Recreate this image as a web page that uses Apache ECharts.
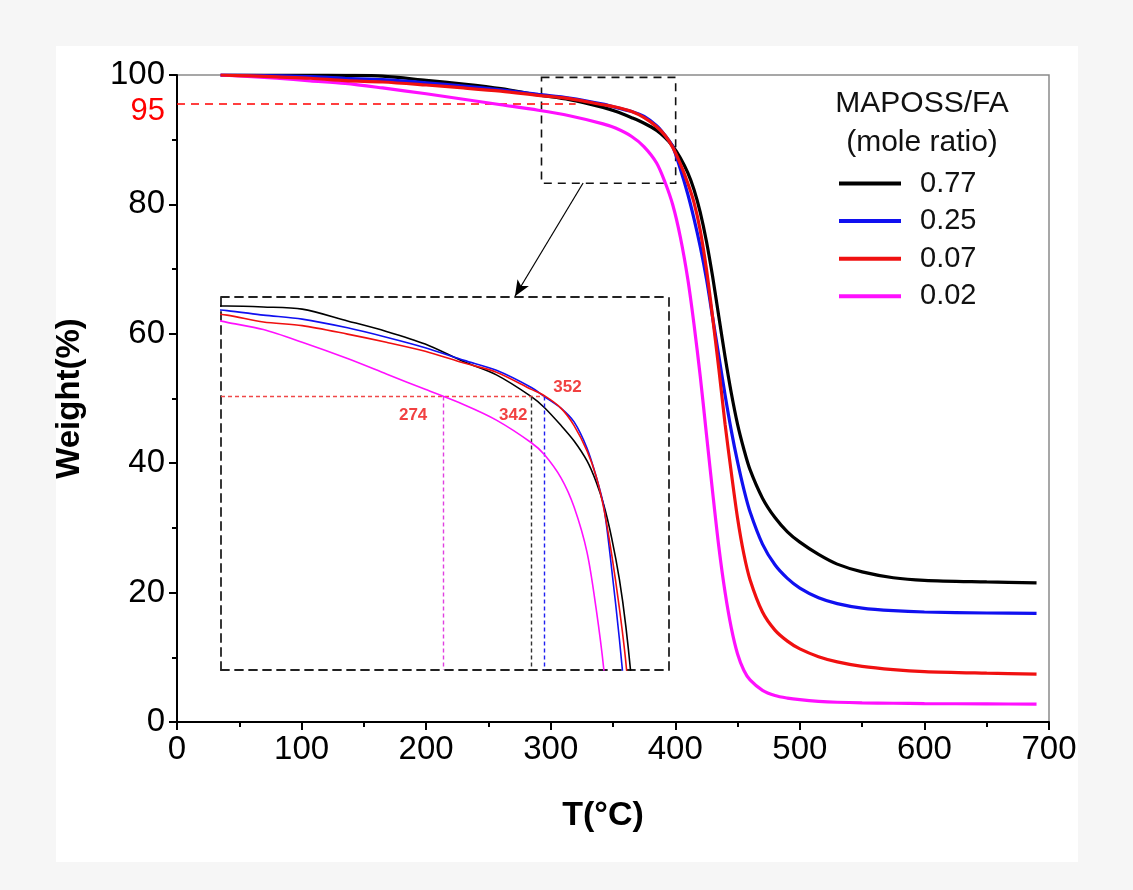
<!DOCTYPE html>
<html><head><meta charset="utf-8">
<script src="https://cdn.jsdelivr.net/npm/echarts@6/dist/echarts.min.js"></script>
<style>html,body{margin:0;padding:0;background:#f6f6f6;} #c{width:1133px;height:890px;}</style>
</head><body><div id="c"></div>
<script>
// ---- data ----
const temps   = [35, 60, 80, 107, 135, 165, 200, 230, 260, 290, 315, 342, 352, 365, 375, 385, 392, 398, 404, 410, 415, 420, 425, 430, 435, 440, 445, 450, 455, 460, 470, 480, 490, 500, 515, 530, 550, 575, 600, 650, 690];
const w077    = [100, 100, 100, 100, 99.95, 99.83, 99.18, 98.6, 97.9, 96.92, 96.2, 95.0, 94.4, 93.4, 92.55, 91.45, 90.3, 89.0, 87.2, 84.9, 82.3, 78.8, 74.3, 68.8, 62.6, 56.4, 50.8, 46, 42.2, 39, 34.6, 31.6, 29.4, 27.8, 25.9, 24.4, 23.2, 22.3, 21.9, 21.65, 21.5];
const w025    = [100, 99.95, 99.88, 99.75, 99.5, 99.28, 98.8, 98.28, 97.7, 97.0, 96.45, 95.5, 95.0, 94.35, 93.6, 92.15, 90.6, 88.9, 85.5, 81.6, 77.8, 73.5, 68.5, 62.5, 56.5, 50.5, 45, 40.2, 36, 32.5, 27.5, 24.3, 22.2, 20.7, 19.2, 18.3, 17.6, 17.2, 17.0, 16.85, 16.8];
const w007    = [100, 99.85, 99.7, 99.5, 99.12, 98.92, 98.45, 98.0, 97.5, 96.85, 96.35, 95.4, 95.05, 94.35, 93.4, 92.0, 90.6, 88.8, 86.3, 83.3, 80.3, 76, 70, 62.5, 54.5, 46, 38.5, 31.5, 26, 22, 17, 14.2, 12.5, 11.3, 10.1, 9.3, 8.6, 8.1, 7.8, 7.55, 7.4];
const w002    = [100, 99.75, 99.5, 99.1, 98.7, 98.0, 97.1, 96.25, 95.4, 94.55, 93.7, 92.45, 91.8, 90.5, 88.9, 86.4, 83.3, 79.9, 75, 68.5, 61.5, 53.5, 44.5, 35.5, 27, 20, 14.5, 10.5, 8, 6.5, 4.9, 4.1, 3.7, 3.45, 3.2, 3.05, 2.95, 2.9, 2.85, 2.8, 2.75];
const seriesNames  = ['0.77', '0.25', '0.07', '0.02'];
const seriesColors = ['#000000', '#1010f0', '#f01010', '#ff10ff'];
const seriesZ      = [3, 4, 6, 5];
const legendTitle  = ['MAPOSS/FA', '(mole ratio)'];
const xName = 'T(°C)', yName = 'Weight(%)';
const xTickMin = 0, xTickMax = 700, xTickStep = 100;
const yTickMin = 0, yTickMax = 100, yTickStep = 20;
// 5% weight-loss level and onset temperatures
const level95 = 95;
const level95Shown = 95.5;     // where the dashed guide sits in the picture
const level95End = 320;
const t5Temps  = [342, 352, 274];             // black, blue, magenta
const t5Colors = ['#333333', '#2020f0', '#e040e0'];
const t5Labels = ['342', '352', '274'];
// zoom box in the main plot and inset ranges
const zoomBox = {tMin: 292.6, tMax: 400.3, wMin: 83.26, wMax: 99.64};
const insetX = [102.3, 448.3], insetY = [79.9, 100.5];
const arrowFrom = [326, 83.3], arrowTo = [271.3, 65.8];

const allW = [w077, w025, w007, w002];
const pairs = w => temps.map((t, j) => [t, w[j]]);

const chart = echarts.init(document.getElementById('c'));
const FONT = 'Liberation Sans, Arial, sans-serif';
const NARROW = 'Liberation Sans Narrow, Arial Narrow, Liberation Sans, sans-serif';
const dash = [8, 6];

const series = [];
allW.forEach((w, i) => {
  series.push({
    name: seriesNames[i], type: 'line', xAxisIndex: 0, yAxisIndex: 0,
    data: pairs(w), symbol: 'none', smooth: 0.3, z: seriesZ[i],
    lineStyle: {width: 3.2, color: seriesColors[i]}, itemStyle: {color: seriesColors[i]},
    silent: true
  });
});
allW.forEach((w, i) => {
  series.push({
    name: 'inset ' + seriesNames[i], type: 'line', xAxisIndex: 1, yAxisIndex: 1,
    data: pairs(w), symbol: 'none', smooth: 0.3, clip: true, z: seriesZ[i],
    lineStyle: {width: 1.6, color: seriesColors[i]}, silent: true
  });
});
// main plot annotations
series.push({
  type: 'line', xAxisIndex: 0, yAxisIndex: 0, data: [], silent: true, z: 2,
  markLine: {
    silent: true, symbol: ['none', 'none'], animation: false,
    data: [
      [{coord: [xTickMin, level95Shown], lineStyle: {color: '#ff0000', type: dash, width: 1.6},
        label: {show: true, position: 'start', formatter: String(level95), color: '#ff0000', fontSize: 31, fontFamily: FONT, distance: 12, offset: [0, 7]}},
       {coord: [level95End, level95Shown]}],
      [{coord: arrowFrom, symbol: 'none', lineStyle: {color: '#000', type: 'solid', width: 1.2}, label: {show: false}},
       {coord: arrowTo, symbol: 'arrow', symbolSize: [10, 16]}]
    ]
  },
  markArea: {
    silent: true, animation: false,
    itemStyle: {color: 'rgba(0,0,0,0)', borderColor: '#111', borderWidth: 1.6, borderType: dash},
    data: [[{coord: [zoomBox.tMin, zoomBox.wMax]}, {coord: [zoomBox.tMax, zoomBox.wMin]}]]
  }
});
// inset guides
const guideData = [
  [{coord: [insetX[0], level95], lineStyle: {color: '#f04848', type: [4, 3], width: 1.4}}, {coord: [t5Temps[1], level95]}]
];
t5Temps.forEach((t, k) => {
  guideData.push([{coord: [t, level95], lineStyle: {color: t5Colors[k], type: [4, 3], width: 1.4}}, {coord: [t, insetY[0]]}]);
});
series.push({
  type: 'line', xAxisIndex: 1, yAxisIndex: 1, data: [], silent: true, z: 1,
  markLine: {silent: true, symbol: ['none', 'none'], animation: false, label: {show: false}, data: guideData}
});
const lblBase = {show: true, color: '#ee1111', fontSize: 17, fontWeight: 'bold', fontFamily: FONT};
series.push({
  type: 'scatter', xAxisIndex: 1, yAxisIndex: 1, symbolSize: 0, silent: true, z: 8,
  data: [
    {value: [t5Temps[2], level95], label: Object.assign({}, lblBase, {formatter: t5Labels[2], position: 'left', distance: 16, offset: [0, 19]})},
    {value: [t5Temps[0], level95], label: Object.assign({}, lblBase, {formatter: t5Labels[0], position: 'left', distance: 4, offset: [0, 19]})},
    {value: [t5Temps[1], level95], label: Object.assign({}, lblBase, {formatter: t5Labels[1], position: 'right', distance: 9, offset: [0, -9]})}
  ]
});

const insetAxisLine = {show: true, onZero: false, lineStyle: {color: '#222', width: 1.8, type: dash}};
const hidden = {axisTick: {show: false}, axisLabel: {show: false}, splitLine: {show: false}};

chart.setOption({
  animation: false,
  backgroundColor: 'transparent',
  graphic: [
    {type: 'rect', shape: {x: 56, y: 46, width: 1022, height: 816}, style: {fill: '#ffffff'}, z: -10},
    {type: 'text', x: 922, y: 104, style: {text: legendTitle[0], fontSize: 30, fontFamily: FONT, fill: '#111', align: 'center', verticalAlign: 'middle'}},
    {type: 'text', x: 922, y: 143, style: {text: legendTitle[1], fontSize: 30, fontFamily: FONT, fill: '#111', align: 'center', verticalAlign: 'middle'}}
  ],
  legend: {
    data: seriesNames, orient: 'vertical', left: 834, top: 164,
    icon: 'rect', itemWidth: 62, itemHeight: 4, itemGap: 8.6,
    textStyle: {fontSize: 29, fontFamily: FONT, color: '#111', padding: [0, 0, 0, 14]},
    selectedMode: false
  },
  grid: [
    {left: 177, top: 75, width: 872, height: 647, show: true, borderColor: '#8a8a8a', borderWidth: 1.5, backgroundColor: 'transparent'},
    {left: 221, top: 297, width: 448, height: 373}
  ],
  xAxis: [
    {gridIndex: 0, type: 'value', min: xTickMin, max: xTickMax, interval: xTickStep,
     axisLine: {onZero: false, lineStyle: {color: '#000', width: 2}},
     axisTick: {inside: false, length: 8, lineStyle: {width: 2}},
     minorTick: {show: true, splitNumber: 2, length: 5, lineStyle: {color: '#000', width: 2}},
     splitLine: {show: false}, minorSplitLine: {show: false},
     axisLabel: {fontSize: 33, color: '#000', fontFamily: NARROW, margin: 11},
     name: xName, nameLocation: 'middle', nameGap: 77,
     nameTextStyle: {fontSize: 34, fontWeight: 'bold', fontFamily: NARROW, color: '#000', padding: [0, 20, 0, 0]}},
    Object.assign({gridIndex: 1, type: 'value', min: insetX[0], max: insetX[1], position: 'bottom', axisLine: insetAxisLine}, hidden),
    Object.assign({gridIndex: 1, type: 'value', min: insetX[0], max: insetX[1], position: 'top', axisLine: insetAxisLine}, hidden)
  ],
  yAxis: [
    {gridIndex: 0, type: 'value', min: yTickMin, max: yTickMax, interval: yTickStep,
     axisLine: {onZero: false, lineStyle: {color: '#000', width: 2}},
     axisTick: {inside: false, length: 8, lineStyle: {width: 2}},
     minorTick: {show: true, splitNumber: 2, length: 5, lineStyle: {color: '#000', width: 2}},
     splitLine: {show: false}, minorSplitLine: {show: false},
     axisLabel: {fontSize: 33, color: '#000', fontFamily: FONT, margin: 12},
     name: yName, nameLocation: 'middle', nameGap: 91,
     nameTextStyle: {fontSize: 33, fontWeight: 'bold', fontFamily: FONT, color: '#000'}},
    Object.assign({gridIndex: 1, type: 'value', min: insetY[0], max: insetY[1], position: 'left', axisLine: insetAxisLine}, hidden),
    Object.assign({gridIndex: 1, type: 'value', min: insetY[0], max: insetY[1], position: 'right', axisLine: insetAxisLine}, hidden)
  ],
  series: series
});
</script></body></html>
